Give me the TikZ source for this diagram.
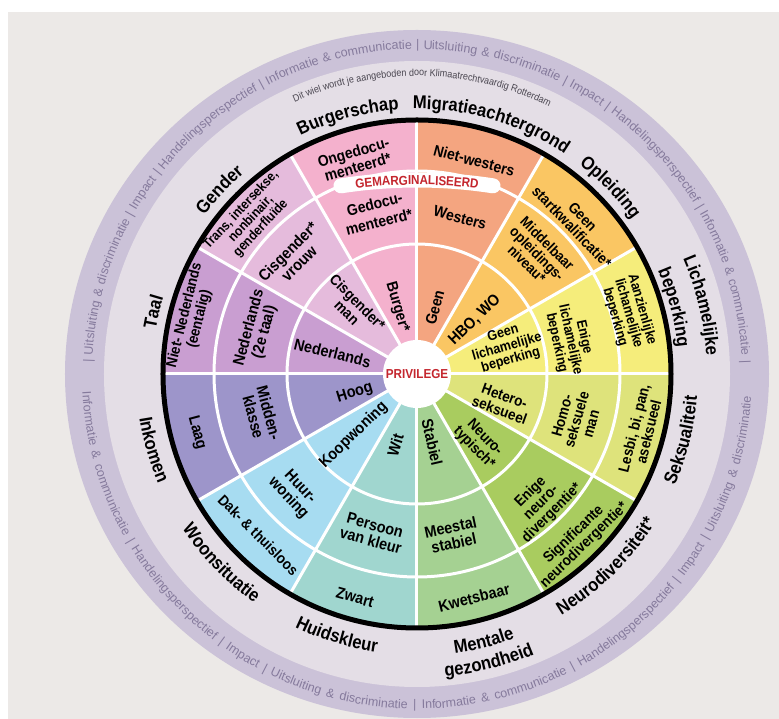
\documentclass[tikz,border=0pt]{standalone}
\usepackage{fontspec}
\setmainfont{Liberation Sans}
\newfontfamily\condfont[FakeStretch=0.9]{Liberation Sans}
\usetikzlibrary{decorations.text}
\definecolor{bgc}{HTML}{ECE9E7}
\definecolor{bandout}{HTML}{CBC2D8}
\definecolor{bandin}{HTML}{E4DEE6}
\definecolor{ringtext}{HTML}{857A9C}
\definecolor{privred}{HTML}{C4262E}
\definecolor{smalltext}{HTML}{4A4650}
\definecolor{cBurg}{HTML}{F4B1CD}
\definecolor{cMigr}{HTML}{F4A580}
\definecolor{cOpl}{HTML}{FAC663}
\definecolor{cLich}{HTML}{F5ED7B}
\definecolor{cSeks}{HTML}{DEE37B}
\definecolor{cNeur}{HTML}{A9CC5F}
\definecolor{cMent}{HTML}{A5D192}
\definecolor{cHuid}{HTML}{A0D6CF}
\definecolor{cWoon}{HTML}{A7DCF1}
\definecolor{cInk}{HTML}{9D95CA}
\definecolor{cTaal}{HTML}{C99ED1}
\definecolor{cGend}{HTML}{E5BBDC}
\newcommand{\catfont}{\condfont\bfseries\fontsize{18.5}{18.5}\selectfont}
\newcommand{\ringfont}{\fontsize{12.5}{12.5}\selectfont}
\newcommand{\gemfont}{\condfont\bfseries\fontsize{13}{13}\selectfont}
\newcommand{\smallfont}{\condfont\fontsize{10}{10}\selectfont}
\newcommand{\catTop}[4]{\path[decorate,decoration={text along path,text={|\catfont|#3},text align=center}] (#1+#4:#2) arc[start angle=#1+#4,end angle=#1-#4,radius=#2];}
\newcommand{\catBot}[4]{\path[decorate,decoration={text along path,text={|\catfont|#3},text align=center}] (#1-#4:#2) arc[start angle=#1-#4,end angle=#1+#4,radius=#2];}
\tikzset{
  segtext/.style={font=\condfont\bfseries\fontsize{#1}{#1}\selectfont, align=center, inner sep=0pt},
  seplinestyle/.style={white, line width=3pt},
}
\begin{document}
\begin{tikzpicture}[x=1pt,y=1pt]
% background and bounding box
\fill[white] (-417,-345) rectangle (362,374);
\useasboundingbox (-417,-345) rectangle (362,374);
\fill[bgc] (-409,-345) rectangle (362,362);
% bands
\fill[bandout] (0,0) ellipse[x radius=352, y radius=344];
\fill[bandin] (0,0) circle[radius=313];
% sectors
\foreach \a/\c in {90/cBurg, 60/cMigr, 30/cOpl, 0/cLich, -30/cSeks, -60/cNeur, -90/cMent, -120/cHuid, -150/cWoon, 180/cInk, 150/cTaal, 120/cGend} {
  \fill[\c] (0,0) -- (\a:256) arc[start angle=\a, end angle=\a+30, radius=256] -- cycle;
}
% separators
\foreach \a in {0,30,...,330} \draw[seplinestyle] (0,0) -- (\a:254);
\draw[seplinestyle] (0,0) circle[radius=130];
\draw[seplinestyle] (0,0) circle[radius=203];
\draw[black, line width=5pt] (0,0) circle[radius=254];
% centre
\node[circle, fill=white, minimum size=68pt, inner sep=0pt, text=privred, font=\condfont\bfseries\fontsize{13}{13}\selectfont] (priv) at (0,0) {PRIVILEGE};
% pill
\draw[white, line width=15pt, line cap=round, shift={(0,-306)}] (98.75:500) arc[start angle=98.75, end angle=81.25, radius=500];
\path[shift={(0,-306)}, decorate, decoration={text along path, text={|\gemfont|GEMARGINALISEERD}, text color=privred, text align=center, raise=-4.7pt}] (105:500) arc[start angle=105, end angle=75, radius=500];
% ring text
\path[decorate, decoration={text along path, text format delimiters={[}{]}, text color=ringtext, text align=fit to path stretching spaces,
 text={[\ringfont]| Uitsluiting {\&} discriminatie | Impact | Handelingsperspectief | Informatie {\&} communicatie |  Uitsluiting {\&} discriminatie | Impact | Handelingsperspectief | Informatie {\&} communicatie |}}]
 (178:325) arc[start angle=178, end angle=2, radius=325];
\path[decorate, decoration={text along path, text format delimiters={[}{]}, text color=ringtext, text align=fit to path stretching spaces,
 text={[\ringfont]Informatie {\&} communicatie | Handelingsperspectief | Impact | Uitsluiting {\&} discriminatie |  Informatie {\&} communicatie | Handelingsperspectief | Impact | Uitsluiting {\&} discriminatie}}]
 (183:335) arc[start angle=183, end angle=356, radius=335];
% small credit text
\path[decorate, decoration={text along path, text color=smalltext, text align=center, text={|\smallfont|Dit wiel wordt je aangeboden door Klimaatrechtvaardig Rotterdam}}]
 (125:298) arc[start angle=125, end angle=53, radius=298];
% category labels
\catTop{105}{265}{Burgerschap}{28}
\catTop{73.5}{265}{Migratieachtergrond}{28}
\catTop{44}{265}{Opleiding}{25}
\catTop{13.5}{290}{Lichamelijke}{25}
\catTop{14.5}{262}{beperking}{25}
\catTop{166.7}{265}{Taal}{20}
\catTop{137}{265}{Gender}{20}
\catBot{-14}{281}{Seksualiteit}{25}
\catBot{-45.5}{281}{Neurodiversiteit*}{28}
\catBot{-76}{282}{Mentale}{20}
\catBot{-76}{304}{gezondheid}{20}
\catBot{-107}{281}{Huidskleur}{25}
\catBot{-136}{281}{Woonsituatie}{25}
\catBot{-164}{281}{Inkomen}{20}
% Burgerschap
\node[segtext=15.5, rotate=16] (burgC) at (106:223) {Ongedocu-\\menteerd*};
\node[segtext=15.5, rotate=14] (burgB) at (104:166) {Gedocu-\\[3pt]menteerd*};
\node[segtext=15.5, rotate=-74] (burgA) at (106.6:70) {Burger*};
% Migratieachtergrond
\node[segtext=15.5, rotate=-15] (migrC) at (75:221) {Niet-westers};
\node[segtext=15.5, rotate=-15] (migrB) at (74.6:162) {Westers};
\node[segtext=15.5, rotate=75] (migrA) at (75:69) {Geen};
% Opleiding
\node[segtext=15, rotate=-46] (oplC) at (43.5:221) {Geen\\startkwalificatie*};
\node[segtext=14.5, rotate=-45] (oplB) at (45:170) {Middelbaar\\opleidings-\\niveau*};
\node[segtext=16, rotate=44] (oplA) at (43:79) {HBO, WO};
% Lichamelijke beperking
\node[segtext=14, rotate=-74] (lichC) at (16:220) {Aanzienlijke\\lichamelijke\\beperking};
\node[segtext=14, rotate=-77.5] (lichB) at (12.5:157) {Enige\\lichamelijke\\beperking};
\node[segtext=14, rotate=16] (lichA) at (16.7:94) {Geen\\lichamelijke\\beperking};
% Seksualiteit
\node[segtext=15, rotate=76] (seksC) at (-14:231) {Lesbi, bi, pan,\\aseksueel};
\node[segtext=15, rotate=74] (seksB) at (-16:166) {Homo-\\seksuele\\man};
\node[segtext=15, rotate=-20] (seksA) at (-19:90) {Hetero-\\seksueel};
% Neurodiversiteit
\node[segtext=15, rotate=44] (neurC) at (-45.7:232) {Significante\\neurodivergentie*};
\node[segtext=15, rotate=45] (neurB) at (-46:179) {Enige\\neuro-\\divergentie*};
\node[segtext=15, rotate=-46] (neurA) at (-48:93) {Neuro-\\typisch*};
% Mentale gezondheid
\node[segtext=16, rotate=14] (mentC) at (-75.7:231) {Kwetsbaar};
\node[segtext=16, rotate=12] (mentB) at (-77.7:165) {Meestal\\stabiel};
\node[segtext=16, rotate=-77] (mentA) at (-77.5:70) {Stabiel};
% Huidskleur
\node[segtext=16, rotate=-15.5] (huidC) at (-105.5:232) {Zwart};
\node[segtext=16, rotate=-15.5] (huidB) at (-105.5:165) {Persoon\\van kleur};
\node[segtext=16, rotate=73] (huidA) at (-107:74) {Wit};
% Woonsituatie
\node[segtext=15, rotate=-45] (woonC) at (-134.6:226) {Dak- \& thuisloos};
\node[segtext=16, rotate=-47] (woonB) at (-136:171) {Huur-\\woning};
\node[segtext=16, rotate=44] (woonA) at (-136:88) {Koopwoning};
% Inkomen
\node[segtext=16, rotate=-75] (inkC) at (195:228) {Laag};
\node[segtext=16, rotate=-75] (inkB) at (194.7:161) {Midden-\\klasse};
\node[segtext=16, rotate=17] (inkA) at (197:65) {Hoog};
% Taal
\node[segtext=15, rotate=76] (taalC) at (165.8:232) {Niet- Nederlands\\(eentalig)};
\node[segtext=16, rotate=75] (taalB) at (164.6:166) {Nederlands\\(2e taal)};
\node[segtext=16, rotate=-14] (taalA) at (166:87) {Nederlands};
% Gender
\node[segtext=13.5, rotate=47] (gendC) at (137:227) {Trans, intersekse,\\nonbinair,\\genderfluïde};
\node[segtext=16, rotate=45] (gendB) at (136.7:170) {Cisgender*\\vrouw};
\node[segtext=15, rotate=-45] (gendA) at (134:93) {Cisgender*\\man};
\end{tikzpicture}
\end{document}
